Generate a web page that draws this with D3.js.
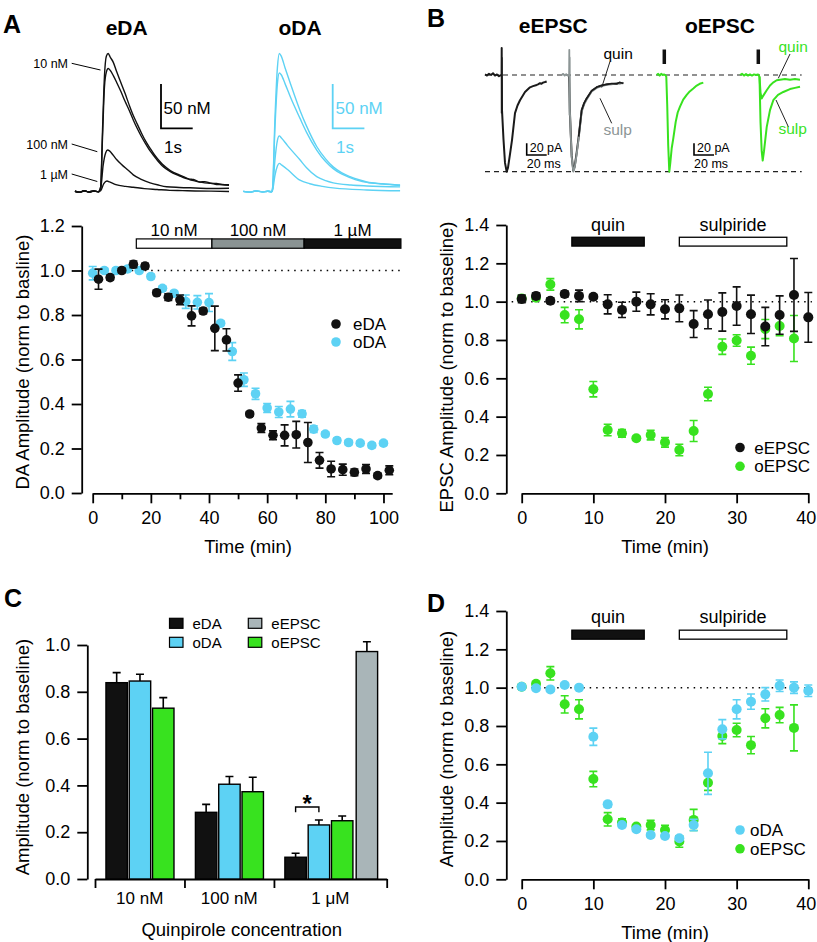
<!DOCTYPE html>
<html><head><meta charset="utf-8">
<script src="https://cdn.jsdelivr.net/npm/d3@7"></script>
<style>html,body{margin:0;padding:0;background:#fff;}svg{display:block;}</style>
</head><body>
<script>
// ---------------- DATA ----------------
// Panel A scatter: time (min)
const tA_eDA = [2,6,10,14,18,22,26,30,34,38,42,46,50,54,58,62,66,70,74,78,82,86,90,94,98,102];
const eDA_A = [0.961,0.968,1.0,1.028,1.02,0.90,0.88,0.868,0.796,0.818,0.74,0.688,0.494,0.355,0.292,0.259,0.259,0.262,0.227,0.147,0.108,0.105,0.093,0.108,0.078,0.102];
const eDA_A_err = [0.045,0.01,0.01,0.015,0.012,0.01,0.015,0.022,0.045,0.012,0.1,0.05,0.037,0.01,0.02,0.02,0.047,0.06,0.09,0.035,0.035,0.025,0.015,0.02,0.01,0.02];
const tA_oDA = [0,4,8,12,16,20,24,28,32,36,40,44,48,52,56,60,64,68,72,76,80,84,88,92,96,100];
const oDA_A = [0.988,1.0,1.0,1.007,1.0,0.973,0.92,0.898,0.86,0.857,0.856,0.763,0.636,0.509,0.446,0.382,0.364,0.377,0.356,0.287,0.265,0.236,0.227,0.224,0.214,0.224];
const oDA_A_err = [0.03,0.01,0.01,0.01,0.01,0.01,0.01,0.01,0.03,0.03,0.04,0.01,0.04,0.03,0.025,0.02,0.025,0.035,0.015,0.015,0.01,0.01,0.01,0.01,0.01,0.01];
const concSegStart = [15,41,72.7];
const concSegEnd = [41,72.7,106];
const concSegLabels = ["10 nM","100 nM","1 µM"];
const timeTicksA = [0,20,40,60,80,100];
const minorTicksA = [10,30,50,70,90];
const yTicksA = [0,0.2,0.4,0.6,0.8,1.0,1.2];

// Panel B scatter
const tB_e = [0,2,4,6,8,10,12,14,16,18,20,22,24,26,28,30,32,34,36,38,40];
const eEPSC_B = [1.014,1.03,1.005,1.04,1.03,1.026,0.986,0.957,1.0,0.986,0.96,0.965,0.883,0.934,0.946,0.977,0.934,0.87,0.93,1.035,0.918];
const eEPSC_B_err = [0.02,0.015,0.015,0.015,0.03,0.01,0.05,0.04,0.05,0.055,0.05,0.07,0.07,0.075,0.1,0.1,0.1,0.1,0.1,0.19,0.13];
const tB_o = [0,2,4,6,8,10,12,14,16,18,20,22,24,26,28,30,32,34,36,38];
const oEPSC_B = [1.017,1.02,1.09,0.93,0.908,0.543,0.33,0.313,0.287,0.304,0.266,0.226,0.325,0.518,0.765,0.797,0.718,0.857,0.873,0.808];
const oEPSC_B_err = [0.015,0.01,0.03,0.04,0.05,0.04,0.03,0.02,0.01,0.025,0.025,0.03,0.055,0.035,0.04,0.03,0.045,0.05,0.05,0.12];
const drugNames = ["quin","sulpiride"];
const drugStart = [7,22];
const drugEnd = [17.1,37];
const timeTicksB = [0,10,20,30,40];
const yTicksB = [0,0.2,0.4,0.6,0.8,1.0,1.2,1.4];

// Panel D scatter
const tD_oDA = [0,2,4,6,8,10,12,14,16,18,20,22,24,26,28,30,32,34,36,38,40];
const oDA_D = [1.005,0.997,0.991,1.014,1.0,0.744,0.391,0.283,0.261,0.231,0.226,0.214,0.283,0.553,0.783,0.887,0.927,0.965,1.01,1.0,0.984];
const oDA_D_err = [0.01,0.01,0.01,0.01,0.01,0.045,0.015,0.01,0.01,0.01,0.01,0.01,0.03,0.11,0.05,0.05,0.04,0.035,0.03,0.03,0.03];
const tD_oEPSC = [0,2,4,6,8,10,12,14,16,18,20,22,24,26,28,30,32,34,36,38];
const oEPSC_D = [1.005,1.02,1.075,0.913,0.887,0.523,0.313,0.296,0.275,0.283,0.257,0.197,0.31,0.504,0.748,0.779,0.70,0.84,0.857,0.79];
const oEPSC_D_err = [0.01,0.01,0.035,0.045,0.05,0.04,0.035,0.02,0.01,0.025,0.025,0.03,0.055,0.04,0.04,0.035,0.045,0.05,0.04,0.12];

// Panel C bars
const concLabels = ["10 nM","100 nM","1 μM"];
const barSeries = ["eDA","oDA","oEPSC","eEPSC"];
const eDA_C = [0.839,0.285,0.093];
const eDA_C_err = [0.043,0.034,0.017];
const oDA_C = [0.846,0.405,0.231];
const oDA_C_err = [0.029,0.033,0.021];
const oEPSC_C = [0.73,0.373,0.249];
const oEPSC_C_err = [0.045,0.062,0.02];
const eEPSC_C = [null,null,0.972];
const eEPSC_C_err = [null,null,0.042];
const yTicksC = [0,0.2,0.4,0.6,0.8,1.0];

// Top traces panel A: [time (s) from stimulus, DA (nM)]
const eDA_tr_base = [[-0.79,0.5],[-0.65,-0.6],[-0.5,1.0],[-0.35,-0.3],[-0.2,0.8],[-0.05,0]];
const eDA_tr1 = [[0.02,5],[0.08,70],[0.14,130],[0.2,153],[0.26,156],[0.32,152],[0.42,146],[0.53,135],[0.66,123],[0.79,111],[0.92,98],[1.05,86],[1.18,76],[1.31,66],[1.44,57],[1.58,49],[1.71,42],[1.84,36],[1.97,31],[2.1,27],[2.3,22],[2.5,19],[2.63,17],[2.8,14.5],[2.95,13.8],[3.15,11],[3.3,11.4],[3.5,9.6],[3.68,9.2],[3.85,8.3],[4.07,7.8]];
const eDA_tr2 = [[0.02,5],[0.08,62],[0.14,118],[0.2,135],[0.26,139],[0.32,137],[0.42,131],[0.53,123],[0.66,113],[0.79,102],[0.92,92],[1.05,81],[1.18,71],[1.31,62],[1.44,54],[1.58,46],[1.71,40],[1.84,34],[1.97,29],[2.1,25.5],[2.3,21],[2.5,18],[2.63,16],[2.8,14],[2.95,12.5],[3.15,10.8],[3.3,10],[3.5,9.4],[3.68,8.2],[3.85,7.9],[4.07,7.2]];
const eDA_tr3 = [[0.02,3],[0.1,30],[0.18,44],[0.24,47],[0.3,46],[0.42,41],[0.53,36],[0.7,30],[0.9,24],[1.05,19],[1.3,14],[1.58,10],[1.84,7.5],[2.1,5.6],[2.5,4.8],[3.0,4.2],[3.5,3.6],[4.07,3.9]];
const eDA_tr4 = [[0.02,1],[0.12,9],[0.22,12],[0.3,11],[0.5,8],[0.8,6],[1.05,5],[1.4,3.5],[1.8,2.5],[2.2,1.5],[2.6,1.2],[3.0,0.8],[3.5,0.6],[4.07,0.3]];
const oDA_tr_base = [[-0.9,0.4],[-0.7,-0.5],[-0.5,0.8],[-0.3,-0.2],[-0.12,0.5],[0,0]];
const oDA_tr1 = [[0.03,5],[0.1,80],[0.18,140],[0.24,156],[0.3,153],[0.42,140],[0.6,121],[0.89,92],[1.1,74],[1.42,51],[1.7,37],[1.94,28],[2.2,21.5],[2.47,17],[2.75,13.5],[3.0,11],[3.5,9],[4.05,7.5]];
const oDA_tr2 = [[0.03,5],[0.1,70],[0.18,122],[0.24,134],[0.3,132],[0.42,122],[0.6,106],[0.89,83],[1.1,67],[1.42,47],[1.7,34],[1.94,26],[2.2,20],[2.47,16],[2.75,12.5],[3.0,10.5],[3.5,8.5],[4.05,7]];
const oDA_tr3 = [[0.03,3],[0.1,35],[0.18,58],[0.24,63],[0.3,61],[0.5,52],[0.89,36],[1.1,27],[1.42,17],[1.7,12.5],[1.94,10],[2.5,7.5],[3.0,6.5],[4.05,5.5]];
const oDA_tr4 = [[0.03,2],[0.1,18],[0.18,29],[0.24,32],[0.32,30],[0.5,25],[0.89,13],[1.2,9],[1.6,6],[2.0,4],[3.0,2],[4.05,1]];
const traceLabelsA = ["10 nM","100 nM","1 µM"];

// Top traces panel B: [time (ms) from trace start, current (pA)]
const eEPSC_tr1 = [[0,1],[2,-1],[4,2],[6,0],[8,3],[10,-1],[12,1],[14,-2],[16,0],[16.6,0],[16.7,46],[16.8,-65],[16.9,30],[17.0,-60],[17.3,-70],[18.5,-110],[20,-150],[21.7,-165],[23,-158],[25,-135],[27,-111],[30,-65],[32.5,-52],[35,-43],[40,-29],[45,-21],[48,-19],[51.7,-17],[53,-16],[55,-14],[56.5,-15],[58,-13],[60,-12],[61.7,-11]];
const eEPSC_tr2_sulp = [[0,0],[1.5,2],[3,-1],[4.5,1.5],[6,-1],[7.4,0],[7.6,43],[7.8,-68],[8.0,30],[8.2,-60],[9,-100],[10,-140],[11.6,-165],[13,-158],[15,-135],[17,-108],[20,-63],[22.5,-50],[25,-42],[30,-28],[35,-22],[40,-19],[45,-17],[50,-16],[55,-14],[58,-15],[61.6,-13]];
const eEPSC_tr2_quin = [[7.4,0],[8.2,-62],[9,-98],[10,-138],[11.6,-163],[13,-156],[15,-132],[17,-105],[20,-60],[22.5,-48],[25,-40],[30,-27],[35,-21],[40,-18],[45,-16],[50,-15],[55,-15],[58,-13],[61.6,-14]];
const oEPSC_tr1 = [[0,0],[1.5,2],[3,-1],[4.5,2],[6,0],[7.5,1],[9,-1],[9.6,-3],[10.5,-50],[11.5,-120],[12.6,-165],[13.6,-150],[15,-125],[16.6,-108],[19,-80],[21,-64],[23.3,-54],[26.5,-42],[30,-34],[33,-28],[36.6,-23],[40,-18],[43,-15],[46.6,-13]];
const oEPSC_tr2_sulp = [[0,0],[2,2],[4,-1],[6,1.5],[8,-1],[10,1],[12,-1],[14,1],[16,0],[18,1],[19.5,-3],[20.5,-80],[21.7,-130],[22.7,-146],[24,-130],[26.7,-89],[30,-60],[33.3,-43],[38,-34],[43.3,-29],[50,-24],[55,-22],[60,-20]];
const oEPSC_tr2_quin = [[19.5,-3],[20.5,-30],[21.7,-40],[23,-36],[26.7,-26],[30,-18],[33,-13],[36.7,-9],[40,-8],[45,-7],[50,-8],[55,-7],[60,-8]];

// ---------------- STYLE ----------------
const FONT = "'Liberation Sans', Arial, Helvetica, sans-serif";
const BLACK = "#111111";
const BLUE = "#5dd2f4";
const GREEN = "#38e21f";
const GREY_BAR = "#a9b5b8";
const GREY_CONC = "#8a9393";
const GREY_TRACE = "#8c9595";
const TICK_FS = 18;
const TITLE_FS = 18.5;

const svg = d3.select("body").append("svg").attr("width",817).attr("height",942)
  .attr("font-family",FONT);
svg.append("rect").attr("width",817).attr("height",942).attr("fill","#fff");

function styleAxis(g, fs){
  g.attr("font-family",FONT).attr("font-size",fs);
  g.selectAll("path.domain,line").attr("stroke","#000").attr("stroke-width",1.8);
  g.selectAll("text").attr("fill","#000");
}
function txt(x,y,s,opts={}){
  const t = svg.append("text").attr("x",x).attr("y",y).text(s)
    .attr("font-size",opts.fs||16).attr("fill",opts.fill||"#000")
    .attr("text-anchor",opts.anchor||"start");
  if(opts.bold) t.attr("font-weight","bold");
  return t;
}
function vtxt(x,y,s,fs){
  svg.append("text").attr("transform",`translate(${x},${y}) rotate(-90)`)
    .attr("text-anchor","middle").attr("font-size",fs).text(s);
}
function drawSeries(g,x,y,ts,vals,errs,color,r){
  const data = ts.map((t,i)=>({t,v:vals[i],e:errs[i]}));
  g.selectAll(null).data(data).enter().append("path")
    .attr("d",d=>{const X=x(d.t),y1=y(d.v-d.e),y2=y(d.v+d.e);return `M${X},${y1}V${y2}M${X-4},${y1}h8M${X-4},${y2}h8`;})
    .attr("stroke",color).attr("stroke-width",1.6).attr("fill","none");
  g.selectAll(null).data(data).enter().append("circle")
    .attr("cx",d=>x(d.t)).attr("cy",d=>y(d.v)).attr("r",r).attr("fill",color);
}
function legendDots(items, x, y0, dy, tx){
  items.forEach((it,i)=>{
    svg.append("circle").attr("cx",x).attr("cy",y0+i*dy).attr("r",4.8).attr("fill",it[1]);
    txt(tx,y0+i*dy+6,it[0],{fs:17});
  });
}

// ---------------- PANEL LETTERS & TITLES ----------------
txt(3,33,"A",{fs:25,bold:true});
txt(427,27,"B",{fs:25,bold:true});
txt(4,607,"C",{fs:25,bold:true});
txt(427,612,"D",{fs:25,bold:true});
txt(126.7,35,"eDA",{fs:21,bold:true,anchor:"middle"});
txt(300,35,"oDA",{fs:21,bold:true,anchor:"middle"});
txt(553.3,33,"eEPSC",{fs:21,bold:true,anchor:"middle"});
txt(720,33,"oEPSC",{fs:21,bold:true,anchor:"middle"});

// ---------------- TOP TRACES A ----------------
function drawTraceSet(x0, sets, color){
  const xT = d3.scaleLinear().domain([0,1]).range([x0, x0+31.7]);
  const yT = d3.scaleLinear().domain([0,50]).range([191.7, 147.4]);
  const line = d3.line().x(d=>xT(d[0])).y(d=>yT(d[1])).curve(d3.curveMonotoneX);
  sets.forEach(s=>{
    svg.append("path").attr("d",line(s)).attr("fill","none").attr("stroke",color).attr("stroke-width",1.4);
  });
  return {xT,yT};
}
const scA1 = drawTraceSet(100, [eDA_tr_base.concat(eDA_tr4), eDA_tr_base.concat(eDA_tr3), eDA_tr_base.concat(eDA_tr2), eDA_tr_base.concat(eDA_tr1)], BLACK);
const scA2 = drawTraceSet(271.7, [oDA_tr_base.concat(oDA_tr4), oDA_tr_base.concat(oDA_tr3), oDA_tr_base.concat(oDA_tr2), oDA_tr_base.concat(oDA_tr1)], BLUE);
function scaleBar(x,y,h,w,c,l1,l2,fs,l1pos,l2pos){
  svg.append("path").attr("d",`M${x},${y-h}V${y}H${x+w}`).attr("fill","none").attr("stroke",c).attr("stroke-width",1.8);
  txt(l1pos[0],l1pos[1],l1,{fs:fs,fill:c});
  txt(l2pos[0],l2pos[1],l2,{fs:fs,fill:c});
}
{
  const h = scA1.yT(0)-scA1.yT(50), w = scA1.xT(1)-scA1.xT(0);
  scaleBar(161,128.3,h,w,"#000","50 nM","1s",17,[163.5,114],[164,153]);
  scaleBar(332.7,128.3,h,w,BLUE,"50 nM","1s",17,[335.5,114],[336,153]);
}
// trace labels A
[[63.3,[71.7,63.3],[100.5,70]],[144,[71.7,144],[97.3,151.7]],[174,[71.7,174],[97.3,181.5]]].forEach((p,i)=>{
  txt(68,p[0]+4.5,traceLabelsA[i],{fs:12.5,anchor:"end"});
  svg.append("line").attr("x1",p[1][0]).attr("y1",p[1][1]).attr("x2",p[2][0]).attr("y2",p[2][1]).attr("stroke","#000").attr("stroke-width",1);
});

// ---------------- TOP TRACES B ----------------
const yE = d3.scaleLinear().domain([0,-165]).range([75,171.7]);
[75,171.7].forEach(y=>svg.append("line").attr("x1",485).attr("x2",801.7).attr("y1",y).attr("y2",y)
  .attr("stroke","#222").attr("stroke-width",1.2).attr("stroke-dasharray","5,4"));
function eTrace(x0,data,color,w){
  const xT = d3.scaleLinear().domain([0,1]).range([x0,x0+1]);
  const line = d3.line().x(d=>xT(d[0])).y(d=>yE(d[1]));
  svg.append("path").attr("d",line(data)).attr("fill","none").attr("stroke",color).attr("stroke-width",w||1.8).attr("stroke-linejoin","round");
  return xT;
}
eTrace(485,eEPSC_tr1,"#1a1a1a",2);
eTrace(561.7,eEPSC_tr2_quin,"#1a1a1a",2);
eTrace(561.7,eEPSC_tr2_sulp,GREY_TRACE,1.8);
eTrace(561.7,eEPSC_tr2_quin.slice(7),"#1a1a1a",1.6);
const xo1 = eTrace(656.7,oEPSC_tr1,GREEN,2);
const xo2 = eTrace(740,oEPSC_tr2_sulp,GREEN,2);
eTrace(740,oEPSC_tr2_quin,GREEN,2);
// light stimulus markers
[[xo1,7.6],[xo2,18.3]].forEach(([xs,t])=>svg.append("line").attr("x1",xs(t)).attr("x2",xs(t)).attr("y1",49.5).attr("y2",64)
  .attr("stroke","#111").attr("stroke-width",3.5));
// scale bars
[526.7,694].forEach(x=>{
  const h = yE(-20)-yE(0);
  svg.append("path").attr("d",`M${x},${155-h}V${155}H${x+20}`).attr("fill","none").attr("stroke","#000").attr("stroke-width",1.6);
  txt(x+3,152,"20 pA",{fs:12.5});
  txt(x,168,"20 ms",{fs:12.5});
});
// labels
txt(603.5,59,"quin",{fs:15.5});
txt(603.5,134.5,"sulp",{fs:15.5,fill:GREY_TRACE});
txt(778.5,52,"quin",{fs:15.5,fill:GREEN});
txt(778.5,134,"sulp",{fs:15.5,fill:GREEN});
[[[610,61.5],[601.7,87.5],"#222"],[[600,98.3],[611.7,123.3],"#222"],[[790,54],[778.3,78.3],"#222"],[[776,100],[788.3,126.7],"#222"]].forEach(p=>{
  svg.append("line").attr("x1",p[0][0]).attr("y1",p[0][1]).attr("x2",p[1][0]).attr("y2",p[1][1]).attr("stroke",p[2]).attr("stroke-width",1);
});

// ---------------- PANEL A SCATTER ----------------
{
  const x = d3.scaleLinear().domain([0,103]).range([92.7,392.2]);
  const y = d3.scaleLinear().domain([0,1.2]).range([493,226]);
  const gy = svg.append("g").attr("transform","translate(81.7,0)")
    .call(d3.axisLeft(y).tickValues(yTicksA).tickFormat(d3.format(".1f")).tickSize(10).tickPadding(7).tickSizeOuter(0));
  styleAxis(gy,TICK_FS);
  const gx = svg.append("g").attr("transform","translate(0,493.3)")
    .call(d3.axisBottom(x).tickValues(timeTicksA).tickSize(10).tickPadding(8).tickSizeOuter(0));
  styleAxis(gx,TICK_FS);
  const gm = svg.append("g").attr("transform","translate(0,493.3)")
    .call(d3.axisBottom(x).tickValues(minorTicksA).tickSize(6).tickFormat("").tickSizeOuter(0));
  styleAxis(gm,TICK_FS); gm.select("path.domain").remove();
  svg.append("line").attr("x1",x(0)).attr("x2",x(106)).attr("y1",y(1)).attr("y2",y(1))
    .attr("stroke","#000").attr("stroke-width",1.5).attr("stroke-dasharray","1.5,5");
  const fills = ["#ffffff",GREY_CONC,BLACK];
  concSegStart.forEach((s,i)=>{
    svg.append("rect").attr("x",x(s)).attr("y",y(1.142)).attr("width",x(concSegEnd[i])-x(s)).attr("height",y(1.1)-y(1.142))
      .attr("fill",fills[i]).attr("stroke","#000").attr("stroke-width",1.2);
    txt((x(s)+x(concSegEnd[i]))/2, y(1.155), concSegLabels[i],{fs:17,anchor:"middle"});
  });
  const g = svg.append("g");
  drawSeries(g,x,y,tA_oDA,oDA_A,oDA_A_err,BLUE,4.8);
  drawSeries(g,x,y,tA_eDA,eDA_A,eDA_A_err,BLACK,4.8);
  legendDots([["eDA",BLACK],["oDA",BLUE]],336,324,18,353);
  vtxt(28.5,362,"DA Amplitude (norm to basline)",TITLE_FS);
  txt(248,553,"Time (min)",{fs:TITLE_FS,anchor:"middle"});
}

// ---------------- PANEL B / D SCATTER ----------------
function epscPanel(y0,y1,seriesList,legendItems,legendY,yLabel,drugBarVals,drugLabelVal){
  const x = d3.scaleLinear().domain([0,40]).range([521.7,808.3]);
  const y = d3.scaleLinear().domain([0,1.4]).range([y0,y1]);
  const gy = svg.append("g").attr("transform","translate(506.3,0)")
    .call(d3.axisLeft(y).tickValues(yTicksB).tickFormat(d3.format(".1f")).tickSize(10).tickPadding(7).tickSizeOuter(0));
  styleAxis(gy,TICK_FS);
  const gx = svg.append("g").attr("transform",`translate(0,${y0})`)
    .call(d3.axisBottom(x).tickValues(timeTicksB).tickSize(10).tickPadding(8).tickSizeOuter(0));
  styleAxis(gx,TICK_FS);
  // keep the last tick label inside the 817px page
  gx.selectAll(".tick text").filter(d=>d===40).attr("dx",-2.5);
  svg.append("line").attr("x1",x(-1.4)).attr("x2",x(40.5)).attr("y1",y(1)).attr("y2",y(1))
    .attr("stroke","#000").attr("stroke-width",1.5).attr("stroke-dasharray","1.5,5");
  const fills = [BLACK,"#ffffff"];
  drugNames.forEach((n,i)=>{
    svg.append("rect").attr("x",x(drugStart[i])).attr("y",y(drugBarVals[0])).attr("width",x(drugEnd[i])-x(drugStart[i]))
      .attr("height",y(drugBarVals[1])-y(drugBarVals[0])).attr("fill",fills[i]).attr("stroke","#000").attr("stroke-width",1.3);
    txt((x(drugStart[i])+x(drugEnd[i]))/2,y(drugLabelVal),n,{fs:18,anchor:"middle"});
  });
  const g = svg.append("g");
  seriesList.forEach(s=>drawSeries(g,x,y,s[0],s[1],s[2],s[3],5));
  legendDots(legendItems,740,legendY,18.8,legendItems[0][0]==="oDA"?750:754.3);
  vtxt(453.3,y0===493.3?367:749,yLabel,TITLE_FS);
  txt(665,y0+59.7,"Time (min)",{fs:TITLE_FS,anchor:"middle"});
}
epscPanel(493.3,225,[[tB_o,oEPSC_B,oEPSC_B_err,GREEN],[tB_e,eEPSC_B,eEPSC_B_err,BLACK]],
  [["eEPSC",BLACK],["oEPSC",GREEN]],447.5,"EPSC Amplitude (norm to baseline)",[1.336,1.29],1.37);
epscPanel(879.3,611,[[tD_oEPSC,oEPSC_D,oEPSC_D_err,GREEN],[tD_oDA,oDA_D,oDA_D_err,BLUE]],
  [["oDA",BLUE],["oEPSC",GREEN]],830,"Amplitude (norm to baseline)",[1.30,1.253],1.337);

// ---------------- PANEL C BARS ----------------
{
  const x = d3.scaleLinear().domain([-0.47,12.05]).range([95,386.7]);
  const y = d3.scaleLinear().domain([0,1]).range([879,645]);
  const GROUP = 3.84;
  const gy = svg.append("g").attr("transform","translate(87.3,0)")
    .call(d3.axisLeft(y).tickValues(yTicksC).tickFormat(d3.format(".1f")).tickSize(10).tickPadding(7).tickSizeOuter(0));
  styleAxis(gy,TICK_FS);
  const seps = [0,1,2].map(g=>g*GROUP-0.47).concat([12.05]);
  const gx = svg.append("g").attr("transform","translate(0,879)")
    .call(d3.axisBottom(x).tickValues(seps).tickSize(9).tickFormat("").tickSizeOuter(0));
  styleAxis(gx,TICK_FS);
  concLabels.forEach((l,gi)=>{
    txt((x(seps[gi])+x(seps[gi+1]))/2,904,l,{fs:17,anchor:"middle"});
  });
  const vals = [eDA_C,oDA_C,oEPSC_C,eEPSC_C];
  const errs = [eDA_C_err,oDA_C_err,oEPSC_C_err,eEPSC_C_err];
  const colors = [BLACK,BLUE,GREEN,GREY_BAR];
  const bw = x(0.92)-x(0);
  const bars = [];
  vals.forEach((arr,si)=>arr.forEach((v,gi)=>{ if(v!=null) bars.push({si,gi,v,e:errs[si][gi]}); }));
  const left = d=>x(d.gi*GROUP + d.si + (d.si===3?0.06:0));
  const gb = svg.append("g");
  gb.selectAll(null).data(bars).enter().append("path")
    .attr("d",d=>{const cx=left(d)+bw/2;return `M${cx},${y(d.v)}V${y(d.v+d.e)}M${cx-4},${y(d.v+d.e)}h8`;})
    .attr("stroke","#000").attr("stroke-width",1.6).attr("fill","none");
  gb.selectAll(null).data(bars).enter().append("rect")
    .attr("x",left).attr("y",d=>y(d.v)).attr("width",bw).attr("height",d=>y(0)-y(d.v))
    .attr("fill",d=>colors[d.si]).attr("stroke","#000").attr("stroke-width",1.4);
  // significance bracket between eDA and oDA at 1 µM
  const c0 = x(2*GROUP+0)+bw/2, c1 = x(2*GROUP+1)+bw/2;
  svg.append("path").attr("d",`M${c0},${y(0.285)}V${y(0.308)}H${c1}V${y(0.285)}`).attr("fill","none").attr("stroke","#000").attr("stroke-width",1.4);
  txt((c0+c1)/2,y(0.285)-0.5,"*",{fs:24,bold:true,anchor:"middle"});
  // legend
  [[0,0],[1,1],[3,0],[2,1]].forEach(([si,row])=>{
    const lx = si===0||si===1 ? 169.5 : 248.3;
    svg.append("rect").attr("x",lx).attr("y",618.3+row*19).attr("width",13.5).attr("height",10)
      .attr("fill",colors[si]).attr("stroke","#000").attr("stroke-width",1.2);
    txt(lx+23,628.5+row*19,barSeries[si],{fs:15});
  });
  vtxt(28.5,757,"Amplitude (norm to baseline)",TITLE_FS);
  txt(241.7,936,"Quinpirole concentration",{fs:TITLE_FS,anchor:"middle"});
}
</script>
</body></html>
